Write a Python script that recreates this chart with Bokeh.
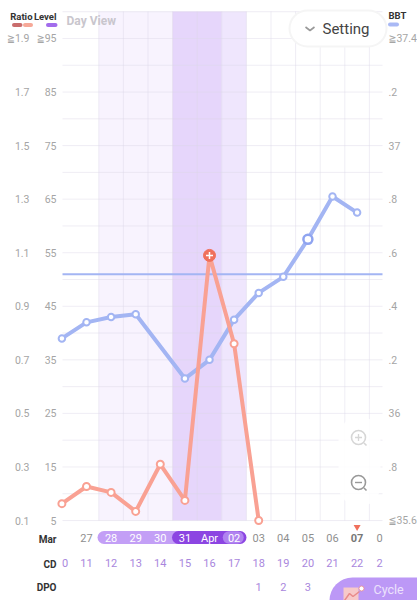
from bokeh.plotting import figure
from bokeh.embed import file_html
from bokeh.resources import INLINE
from bokeh.core.properties import value
from bokeh.models import Range1d

W, H = 417, 600
# ---------- data ----------
date_labels = ["27","28","29","30","31","Apr","02","03","04","05","06","07","0"]
cd_labels = ["0","11","12","13","14","15","16","17","18","19","20","21","22","2"]
dpo_labels = ["1","2","3"]
ratio_ticks = ["≧1.9","1.7","1.5","1.3","1.1","0.9","0.7","0.5","0.3","0.1"]
level_ticks = ["≧95","85","75","65","55","45","35","25","15","5"]
bbt_ticks = ["≧37.4",".2","37",".8",".6",".4",".2","36",".8","≦35.6"]
ratio_tick_vals = [1.9,1.7,1.5,1.3,1.1,0.9,0.7,0.5,0.3,0.1]

days_bbt = [-1,0,1,2,4,5,6,7,8,9,10,11]
bbt = [36.28,36.34,36.36,36.37,36.13,36.20,36.35,36.45,36.51,36.65,36.81,36.75]
days_ratio = [-1,0,1,2,3,4,5,6,7]
ratio = [0.163,0.227,0.205,0.134,0.31,0.175,1.09,0.76,0.10]
coverline = 36.52
peak_day, bbt_ring_day = 5, 9

band_left = [1,4,6]
band_right = [3,5,6]
band_colors = ["#f8f3fe","#e6d6fb","#efe6fd"]

# ---------- px helpers (chrome only) ----------
X0, DX = 86.0, 24.6
Y_TOP, Y_BOT = 38.0, 520.0
def ix(x): return (x - X0) / DX
def ry(y): return 0.1 + (Y_BOT - y) * 1.8 / (Y_BOT - Y_TOP)

x_rng = Range1d(ix(0), ix(W))
y_rng = Range1d(ry(H), ry(0))
p = figure(width=W, height=H, output_backend="svg", toolbar_location=None,
           x_range=x_rng, y_range=y_rng, min_border=0, outline_line_color=None,
           background_fill_color="white", border_fill_color="white")
p.xaxis.visible = False
p.yaxis.visible = False
p.xgrid.visible = False
p.ygrid.visible = False

def bbt_of(r): return 35.6 + (r - 0.1)
p.extra_y_ranges = {"bbt": Range1d(bbt_of(y_rng.start), bbt_of(y_rng.end))}

font = value("Roboto, 'DejaVu Sans Condensed'")
def txt(x, y, s, size, color, align="center", style="normal", alpha=1.0):
    p.text(x=[x], y=[y], text=[s], text_font=font, text_font_size=f"{size}px",
           text_color=color, text_align=align, text_baseline="middle",
           text_font_style=style, text_alpha=alpha)

# bands
p.quad(left=[d-0.5 for d in band_left], right=[d+0.5 for d in band_right],
       bottom=ry(520), top=ry(11), fill_color=band_colors, line_color=None)

# grid
grid_y = [ry(11.2 + i * 26.78) for i in range(20)]
p.segment(x0=ix(62), x1=ix(382), y0=grid_y, y1=grid_y, line_color="#dcd6e6", line_alpha=0.45, line_width=1)
vx = [d + 0.5 for d in range(0, 12)]
p.segment(x0=vx, x1=vx, y0=ry(520), y1=ry(11), line_color="#dcd6e6", line_alpha=0.45, line_width=1)

# coverline, series
p.line(x=[ix(62), ix(382)], y=[coverline, coverline], y_range_name="bbt", line_color="#a3b5f3", line_width=2)
p.line(days_bbt, bbt, y_range_name="bbt", line_color="#a3b5f3", line_width=4, line_join="round")
p.scatter(days_bbt, bbt, y_range_name="bbt", size=6.5, fill_color="white", line_color="#a3b5f3", line_width=2)
p.scatter([bbt_ring_day], [bbt[days_bbt.index(bbt_ring_day)]], y_range_name="bbt", size=9, fill_color="white",
          line_color="#8fa4f0", line_width=2.5)
p.line(days_ratio, ratio, line_color="#f9a193", line_width=4, line_join="round")
p.scatter(days_ratio, ratio, size=7, fill_color="white", line_color="#f9a193", line_width=2)
pk = ratio[days_ratio.index(peak_day)]
p.scatter([peak_day], [pk], size=12, fill_color="#f0705c", line_color="#f0705c")
p.scatter([peak_day], [pk], marker="cross", size=7, line_color="white", line_width=1.5)

# side labels
for v, a, b, c in zip(ratio_tick_vals, ratio_ticks, level_ticks, bbt_ticks):
    txt(ix(29), v, a, 10.5, "#a5a5a5", "right")
    txt(ix(56), v, b, 10.5, "#a5a5a5", "right")
    txt(ix(388), v, c, 10.5, "#a5a5a5", "left")

txt(ix(32), ry(15.5), "Ratio", 9.5, "#333333", "right", "bold")
txt(ix(56), ry(15.5), "Level", 9.5, "#333333", "right", "bold")
txt(ix(388), ry(15), "BBT", 9.5, "#333333", "left", "bold")
p.segment(x0=[ix(13.5), ix(24.5), ix(47.5), ix(389.5)], x1=[ix(20), ix(30.5), ix(55), ix(396.5)],
          y0=[ry(24.5)]*3+[ry(24)], y1=[ry(24.5)]*3+[ry(24)],
          line_color=["#c96d6d","#f6a898","#a26cec","#a9b9f5"], line_width=4, line_cap="round")
txt(ix(66), ry(20), "Day View", 12, "#c9c6cd", "left", "bold")

# Setting pill
p.segment(x0=[ix(307)], x1=[ix(368)], y0=[ry(28)], y1=[ry(28)], line_color="#f5f5f5", line_width=38, line_cap="round")
p.segment(x0=[ix(307)], x1=[ix(368)], y0=[ry(28)], y1=[ry(28)], line_color="white", line_width=34, line_cap="round")
p.line(x=[ix(305), ix(309.5), ix(314)], y=[ry(26.5), ry(30), ry(26.5)], line_color="#999999", line_width=1.6)
txt(ix(322), ry(28), "Setting", 15, "#444444", "left")

# zoom pill
p.segment(x0=[ix(359)], x1=[ix(359)], y0=[ry(437)], y1=[ry(485)], line_color="white", line_alpha=0.85, line_width=42, line_cap="round")
p.scatter([ix(358)], [ry(437)], size=14, fill_color=None, line_color="#d6d6d6", line_width=1.6)
p.scatter([ix(358)], [ry(437)], marker="cross", size=7, line_color="#d6d6d6", line_width=1.3)
p.scatter([ix(358)], [ry(482)], size=14, fill_color=None, line_color="#999999", line_width=1.6)
p.scatter([ix(358)], [ry(482)], marker="dash", size=7, line_color="#999999", line_width=1.4)
p.segment(x0=[ix(363.5), ix(363.5)], x1=[ix(366), ix(366)], y0=[ry(442.5), ry(487.5)], y1=[ry(445), ry(490)],
          line_color=["#d6d6d6","#999999"], line_width=1.6)

# bottom rows
txt(ix(56), ry(538.5), "Mar", 10, "#333333", "right", "bold")
txt(ix(56), ry(563.5), "CD", 10, "#333333", "right", "bold")
txt(ix(56), ry(586.5), "DPO", 10, "#333333", "right", "bold")
py = ry(537)
p.segment(x0=[ix(103.5)], x1=[ix(178)], y0=py, y1=py, line_color="#c39ff6", line_width=13, line_cap="round")
p.segment(x0=[ix(178)], x1=[ix(239.5)], y0=py, y1=py, line_color="#8c45e2", line_width=13, line_cap="round")
p.segment(x0=[ix(228.5)], x1=[ix(237)], y0=py, y1=py, line_color="#b083f0", line_width=12.5, line_cap="round")
for i, s in enumerate(date_labels):
    col = "#8f8f8f"
    st = "normal"
    if 1 <= i <= 6:
        col = "white"
    if i == 11:
        col, st = "#777777", "bold"
    x = i if i < 12 else ix(379)
    txt(x, ry(537.5), s, 11, col, "center", st)
p.scatter([11], [ry(526.5)], marker="inverted_triangle", size=7, fill_color="#f0705c", line_color=None)
for i, s in enumerate(cd_labels):
    x = i - 1 if i < 13 else ix(379)
    if i == 0:
        x = ix(64.5)
    txt(x, ry(562.5), s, 11, "#a987dd")
for i, s in enumerate(dpo_labels):
    txt(7 + i, ry(586.5), s, 11, "#a987dd")

# Cycle button
p.segment(x0=[ix(352)], x1=[ix(440)], y0=[ry(600)], y1=[ry(600)], line_color="#bc98f6", line_width=46, line_cap="round")
p.quad(left=[ix(343)], right=[ix(358)], top=[ry(587)], bottom=[ry(601)], fill_color="#f7c9c9", line_color=None)
p.line(x=[ix(344), ix(349), ix(352.5), ix(359)], y=[ry(600), ry(593), ry(596), ry(591)], line_color="#e88a8a", line_width=1.5)
p.scatter([ix(361)], [ry(588)], size=5, fill_color="white", line_color="#e88a8a", line_width=0.8)
txt(ix(373), ry(589), "Cycle", 12.5, "#ece2fc", "left")
txt(ix(373), ry(605), "Collect", 12.5, "#ece2fc", "left")

open("out.html", "w").write(file_html(p, INLINE))
